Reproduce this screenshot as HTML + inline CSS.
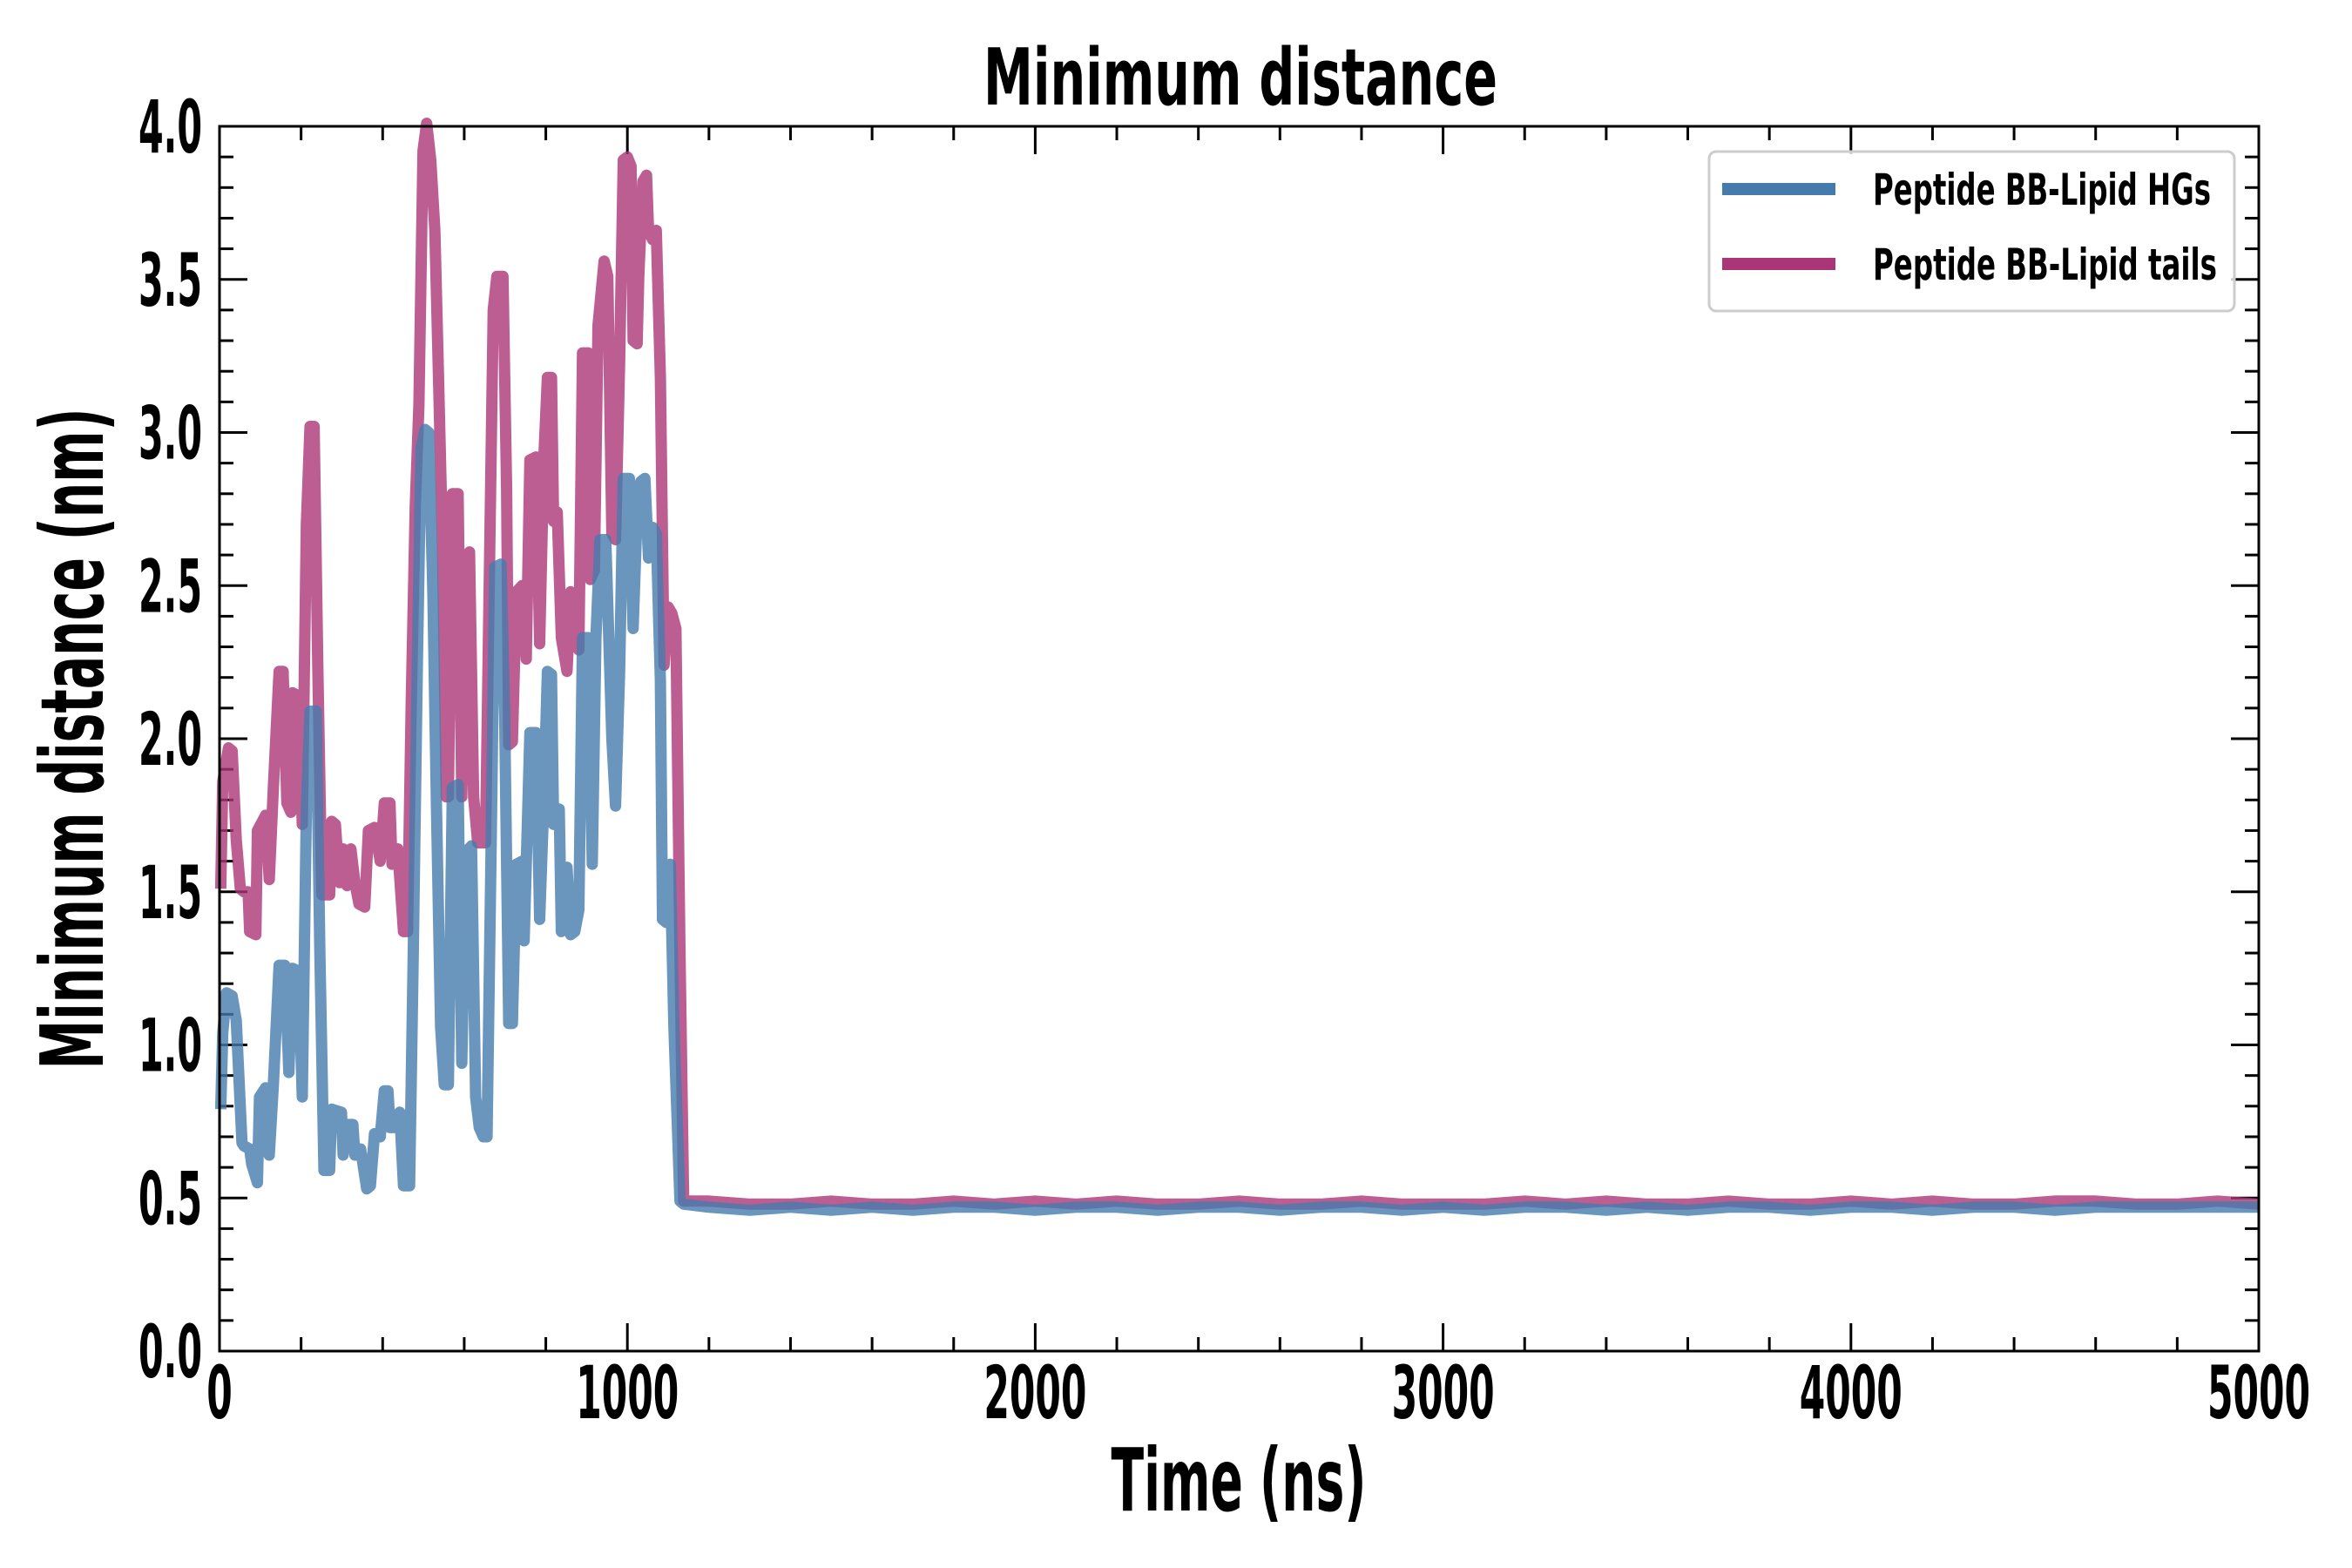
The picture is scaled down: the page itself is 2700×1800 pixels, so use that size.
<!DOCTYPE html>
<html><head><meta charset="utf-8"><style>
html,body{margin:0;padding:0;background:#fff}
svg{display:block}
text{font-family:"Liberation Sans Narrow","DejaVu Sans Condensed","Liberation Sans",sans-serif;font-weight:bold;fill:#000}
</style></head><body>
<svg id="chart" width="2700" height="1800" viewBox="0 0 2700 1800" xmlns="http://www.w3.org/2000/svg">
<rect width="2700" height="1800" fill="#fff"/>
<text x="1424" y="120" font-size="90" text-anchor="middle" textLength="590" lengthAdjust="spacingAndGlyphs">Minimum distance</text>
<text x="1422" y="1734" font-size="100" text-anchor="middle" textLength="293" lengthAdjust="spacingAndGlyphs">Time (ns)</text>
<text x="0" y="0" font-size="100" text-anchor="middle" textLength="759" lengthAdjust="spacingAndGlyphs" transform="translate(118,848) rotate(-90)">Minimum distance (nm)</text>
<g id="ticks"></g>
<g id="series"></g>
<rect x="252" y="145" width="2341" height="1406" fill="none" stroke="#000" stroke-width="3"/>
<g>
<rect x="1962" y="174" width="603" height="183" rx="8" fill="#fff" fill-opacity="0.8" stroke="#ccc" stroke-width="3"/>
<line x1="1977" y1="217" x2="2107" y2="217" stroke="#457aac" stroke-width="14"/>
<text x="2150" y="235" font-size="50" font-weight="normal" textLength="388" lengthAdjust="spacingAndGlyphs">Peptide BB-Lipid HGs</text>
<line x1="1977" y1="303" x2="2107" y2="303" stroke="#ab3677" stroke-width="14"/>
<text x="2150" y="321" font-size="50" font-weight="normal" textLength="395" lengthAdjust="spacingAndGlyphs">Peptide BB-Lipid tails</text>
</g>
</svg>
<script>
const xTickValues=[0,1000,2000,3000,4000,5000];
const xTickLabels=["0","1000","2000","3000","4000","5000"];
const yTickValues=[0,0.5,1,1.5,2,2.5,3,3.5,4];
const yTickLabels=["0.0","0.5","1.0","1.5","2.0","2.5","3.0","3.5","4.0"];
const tailTimes=[1200,1300,1400,1500,1600,1700,1800,1900,2000,2100,2200,2300,2400,2500,2600,2700,2800,2900,3000,3100,3200,3300,3400,3500,3600,3700,3800,3900,4000,4100,4200,4300,4400,4500,4600,4700,4800,4900,5000];
const tailsTimes=[3,8,22,31,41,51,60,70,74,89,93,113,122,132,146,156,165,175,179,194,203,213,222,232,241,251,270,275,284,294,303,313,322,332,342,356,365,380,394,404,418,423,437,451,461,470,480,489,499,508,518,528,537,547,556,561,571,585,594,604,613,623,633,652,671,680,695,704,709,718,728,742,752,761,776,785,795,804,814,819,828,838,852,861,871,881,890,904,909,919,928,943,952,962,971,981,990,1000,1009,1014,1024,1028,1038,1047,1052,1062,1071,1081,1090,1100,1109,1119,1129,1138];
const tailsValues=[1.51,1.86,1.97,1.96,1.67,1.51,1.50,1.50,1.37,1.36,1.70,1.75,1.54,1.84,2.22,2.22,1.79,1.76,2.15,2.14,1.72,2.70,3.02,3.02,2.24,1.49,1.49,1.73,1.72,1.53,1.64,1.52,1.64,1.53,1.46,1.45,1.70,1.71,1.60,1.79,1.79,1.59,1.64,1.37,1.37,2.12,2.76,3.09,3.92,4.01,3.89,3.66,3.18,2.62,1.81,1.81,2.80,2.80,1.81,2.43,2.61,1.81,1.66,1.66,3.40,3.51,3.51,2.81,1.98,1.99,2.48,2.50,2.26,2.91,2.92,2.31,2.91,3.18,3.18,2.71,2.74,2.33,2.22,2.48,2.36,2.29,3.26,3.26,2.52,2.55,3.35,3.56,3.51,2.67,2.65,3.23,3.89,3.90,3.87,3.30,3.29,3.51,3.82,3.84,3.66,3.63,3.66,3.18,2.24,2.43,2.41,2.36,1.30,0.49];
const tailsTailValues=[0.49,0.48,0.48,0.49,0.48,0.48,0.49,0.48,0.49,0.48,0.49,0.48,0.48,0.49,0.48,0.48,0.49,0.48,0.48,0.48,0.49,0.48,0.49,0.48,0.48,0.49,0.48,0.48,0.49,0.48,0.49,0.48,0.48,0.49,0.49,0.48,0.48,0.49,0.48];
const hgTimes=[3,8,17,31,41,46,55,60,74,79,93,98,113,122,132,146,160,170,179,194,203,213,222,237,246,256,270,275,299,303,313,327,332,346,361,370,380,394,404,413,418,437,442,451,466,475,485,494,504,513,523,532,542,551,561,571,585,594,604,618,628,637,647,656,666,675,690,699,709,718,728,742,747,761,776,785,795,804,814,819,833,838,852,861,871,881,890,904,914,923,933,947,962,971,981,990,1005,1014,1024,1033,1043,1052,1062,1071,1081,1086,1095,1105,1114,1129,1138];
const hgValues=[0.79,1.04,1.17,1.16,1.08,0.94,0.68,0.67,0.66,0.61,0.55,0.83,0.86,0.64,0.87,1.26,1.26,0.91,1.25,1.24,0.83,1.77,2.09,2.09,1.30,0.59,0.59,0.79,0.78,0.64,0.74,0.74,0.64,0.66,0.53,0.54,0.71,0.70,0.85,0.85,0.73,0.73,0.78,0.54,0.54,1.30,2.24,2.95,3.01,3.00,2.48,1.77,1.06,0.87,0.87,1.84,1.85,0.94,1.63,1.65,0.83,0.73,0.70,0.70,1.65,2.56,2.57,2.08,1.07,1.07,1.59,1.60,1.34,2.02,2.02,1.41,1.79,2.22,2.21,1.72,1.77,1.37,1.58,1.36,1.37,1.44,2.33,2.33,1.59,2.33,2.65,2.65,2.00,1.78,2.22,2.85,2.85,2.36,2.74,2.84,2.85,2.59,2.69,2.67,2.19,1.41,1.40,1.59,1.06,0.49,0.48];
const hgTailValues=[0.47,0.46,0.47,0.46,0.47,0.46,0.47,0.47,0.46,0.47,0.47,0.46,0.47,0.47,0.46,0.47,0.47,0.46,0.47,0.46,0.47,0.47,0.46,0.47,0.46,0.47,0.47,0.46,0.47,0.47,0.46,0.47,0.47,0.46,0.47,0.47,0.47,0.47,0.47];

const L=252,R=2593,T=145,B=1551;
const xScale=t=>L+(t/5000)*(R-L);
const yScale=v=>B-(v/4)*(B-T);
const NS="http://www.w3.org/2000/svg";
const ticks=document.getElementById('ticks');
const series=document.getElementById('series');
function line(parent,x1,y1,x2,y2,name){
  const l=document.createElementNS(NS,'line');
  l.setAttribute('x1',x1);l.setAttribute('y1',y1);l.setAttribute('x2',x2);l.setAttribute('y2',y2);
  l.setAttribute('stroke','#000');l.setAttribute('stroke-width','3');
  
  
  parent.appendChild(l);
}
function label(x,y,txt,anchor,len,name){
  const t=document.createElementNS(NS,'text');
  t.setAttribute('x',x);t.setAttribute('y',y);t.setAttribute('font-size','84');
  t.setAttribute('text-anchor',anchor);
  t.setAttribute('textLength',len);t.setAttribute('lengthAdjust','spacingAndGlyphs');
  t.textContent=txt;
  
  
  ticks.appendChild(t);
}
for(let t=0;t<=5000;t+=200){
  const x=xScale(t);const major=(t%1000===0);const len=major?32:16;
  line(ticks,x,B,x,B-len,'x-tick');
  line(ticks,x,T,x,T+len,'x-tick-top');
}
for(let i=0;i<=40;i++){
  const v=i/10;const y=yScale(v);const major=(i%5===0);const len=major?32:16;
  line(ticks,L,y,L+len,y,'y-tick');
  line(ticks,R,y,R-len,y,'y-tick-right');
}
xTickValues.forEach((v,i)=>{
  const s=xTickLabels[i];
  label(xScale(v),1628,s,'middle',s.length*29.5,'x-tick-label');
});
yTickValues.forEach((v,i)=>{
  label(232,yScale(v)+30,yTickLabels[i],'end',73,'y-tick-label');
});
function path(times,vals,color,name){
  const p=document.createElementNS(NS,'path');
  let d='';
  times.forEach((t,i)=>{d+=(i?'L':'M')+xScale(t).toFixed(1)+','+yScale(vals[i]).toFixed(1);});
  p.setAttribute('d',d);p.setAttribute('fill','none');p.setAttribute('stroke',color);
  p.setAttribute('stroke-width','13');p.setAttribute('stroke-opacity','0.8');
  p.setAttribute('stroke-linejoin','round');
  
  
  series.appendChild(p);
}
path(tailsTimes.concat(tailTimes),tailsValues.concat(tailsTailValues),'#ab3677','series-lipid-tails');
path(hgTimes.concat(tailTimes),hgValues.concat(hgTailValues),'#457aac','series-lipid-hgs');
</script>
</body></html>
